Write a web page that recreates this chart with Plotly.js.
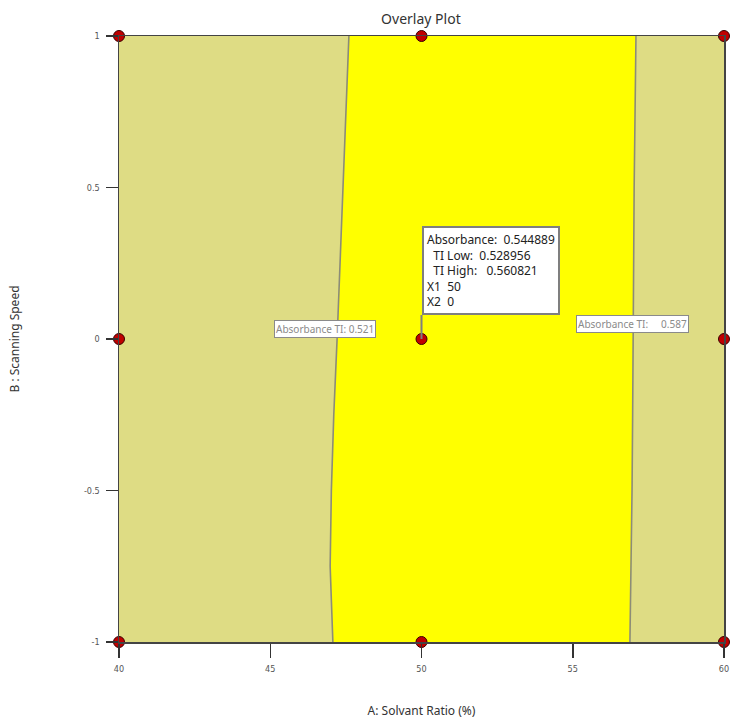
<!DOCTYPE html>
<html>
<head>
<meta charset="utf-8">
<script src="https://cdn.plot.ly/plotly-3.0.1.min.js"></script>
<style>html,body{margin:0;padding:0;background:#fff;}#chart{width:732px;height:719px;}</style>
</head>
<body>
<div id="chart"></div>
<script>
// Factor B levels (Scanning Speed) along which the contour boundaries were read
const speedLevels = [-1, -0.75, -0.5, -0.25, 0, 0.25, 0.5, 0.75, 1];
// A (Solvant Ratio %) where Absorbance TI = 0.521 (left boundary)
const lowBoundaryA = [47.07, 46.98, 47.02, 47.10, 47.21, 47.31, 47.40, 47.50, 47.60];
// A (Solvant Ratio %) where Absorbance TI = 0.587 (right boundary)
const highBoundaryA = [56.89, 56.93, 56.96, 56.98, 56.99, 57.01, 57.03, 57.06, 57.09];
// Design points
const designA = [40, 40, 40, 50, 50, 50, 60, 60, 60];
const designB = [-1, 0, 1, -1, 0, 1, -1, 0, 1];
// Tick labels
const xTicks = [40, 45, 50, 55, 60];
const yTicks = [-1, -0.5, 0, 0.5, 1];
// Flag at the centre point
const flagPoint = {a: 50, b: 0, absorbance: 0.544889, tiLow: 0.528956, tiHigh: 0.560821};
const contourLabels = [
  {text: 'Absorbance TI: 0.521', a: 46.81, b: 0.033},
  {text: 'Absorbance TI:&nbsp;&nbsp;&nbsp;&nbsp;&nbsp;0.587', a: 56.96, b: 0.05}
];

const khaki = '#DEDC84';
const yellowFill = '#FFFF00';

const regionX = lowBoundaryA.concat(highBoundaryA.slice().reverse());
const regionY = speedLevels.concat(speedLevels.slice().reverse());

const traces = [
  {x: regionX, y: regionY, type: 'scatter', mode: 'lines', fill: 'toself',
   fillcolor: yellowFill, line: {width: 0, color: yellowFill}, hoverinfo: 'skip', showlegend: false},
  {x: lowBoundaryA, y: speedLevels, type: 'scatter', mode: 'lines',
   line: {color: '#8c8c78', width: 1.6}, hoverinfo: 'skip', showlegend: false},
  {x: highBoundaryA, y: speedLevels, type: 'scatter', mode: 'lines',
   line: {color: '#8c8c78', width: 1.6}, hoverinfo: 'skip', showlegend: false},
  {x: designA, y: designB, type: 'scatter', mode: 'markers', cliponaxis: false,
   marker: {color: '#C00000', size: 11, line: {color: '#3a0000', width: 1}}, showlegend: false}
];

const tickFont = {family: 'Liberation Sans Narrow, DejaVu Sans Condensed, sans-serif', size: 9, color: '#555'};

const annotations = [
  {x: flagPoint.a, y: flagPoint.b, xref: 'x', yref: 'y', showarrow: true, arrowhead: 0,
   arrowwidth: 2, arrowcolor: '#7f7f7f', ax: 0, ay: -24, xanchor: 'left', yanchor: 'bottom',
   align: 'left', bgcolor: '#ffffff', bordercolor: '#7f7f7f', borderwidth: 2, borderpad: 3,
   font: {family: 'Noto Sans, Open Sans, sans-serif', size: 12, color: '#222'},
   text: 'Absorbance:&nbsp;&nbsp;' + flagPoint.absorbance +
         '<br>&nbsp;&nbsp;TI Low:&nbsp;&nbsp;' + flagPoint.tiLow +
         '<br>&nbsp;&nbsp;TI High:&nbsp;&nbsp;&nbsp;' + flagPoint.tiHigh +
         '<br>X1&nbsp;&nbsp;' + flagPoint.a + '<br>X2&nbsp;&nbsp;' + flagPoint.b}
];
contourLabels.forEach(l => annotations.push({
  x: l.a, y: l.b, xref: 'x', yref: 'y', showarrow: false, text: l.text,
  bgcolor: '#ffffff', bordercolor: '#8a8a8a', borderwidth: 1, borderpad: 1,
  font: {family: 'Noto Sans, Open Sans, sans-serif', size: 10, color: '#8a8a8a'}
}));

const layout = {
  width: 732, height: 719,
  margin: {l: 119, r: 8, t: 36, b: 77},
  paper_bgcolor: '#ffffff', plot_bgcolor: khaki,
  title: {text: 'Overlay Plot', x: 0.575, xanchor: 'center', y: 0.973, yanchor: 'middle',
          font: {family: 'Noto Sans, Open Sans, sans-serif', size: 14, color: '#333'}},
  xaxis: {range: [40, 60], tickvals: xTicks, ticktext: xTicks.map(String), showgrid: false, zeroline: false,
          showline: true, mirror: true, linecolor: '#444', linewidth: 1.5,
          ticks: 'outside', ticklen: 14, tickwidth: 1.5, tickcolor: '#333', tickfont: tickFont,
          ticklabelstandoff: 4,
          title: {text: 'A: Solvant Ratio (%)', standoff: 34,
                  font: {family: 'Noto Sans, Open Sans, sans-serif', size: 12, color: '#333'}}},
  yaxis: {range: [-1, 1], tickvals: yTicks, ticktext: yTicks.map(String), showgrid: false, zeroline: false,
          showline: true, mirror: true, linecolor: '#444', linewidth: 1.5,
          ticks: 'outside', ticklen: 12, tickwidth: 1.5, tickcolor: '#333', tickfont: tickFont,
          ticklabelstandoff: 4,
          title: {text: 'B : Scanning Speed', standoff: 61,
                  font: {family: 'Noto Sans, Open Sans, sans-serif', size: 12, color: '#333'}}},
  annotations: annotations,
  showlegend: false
};

Plotly.newPlot('chart', traces, layout, {displayModeBar: false, staticPlot: true});
</script>
</body>
</html>
